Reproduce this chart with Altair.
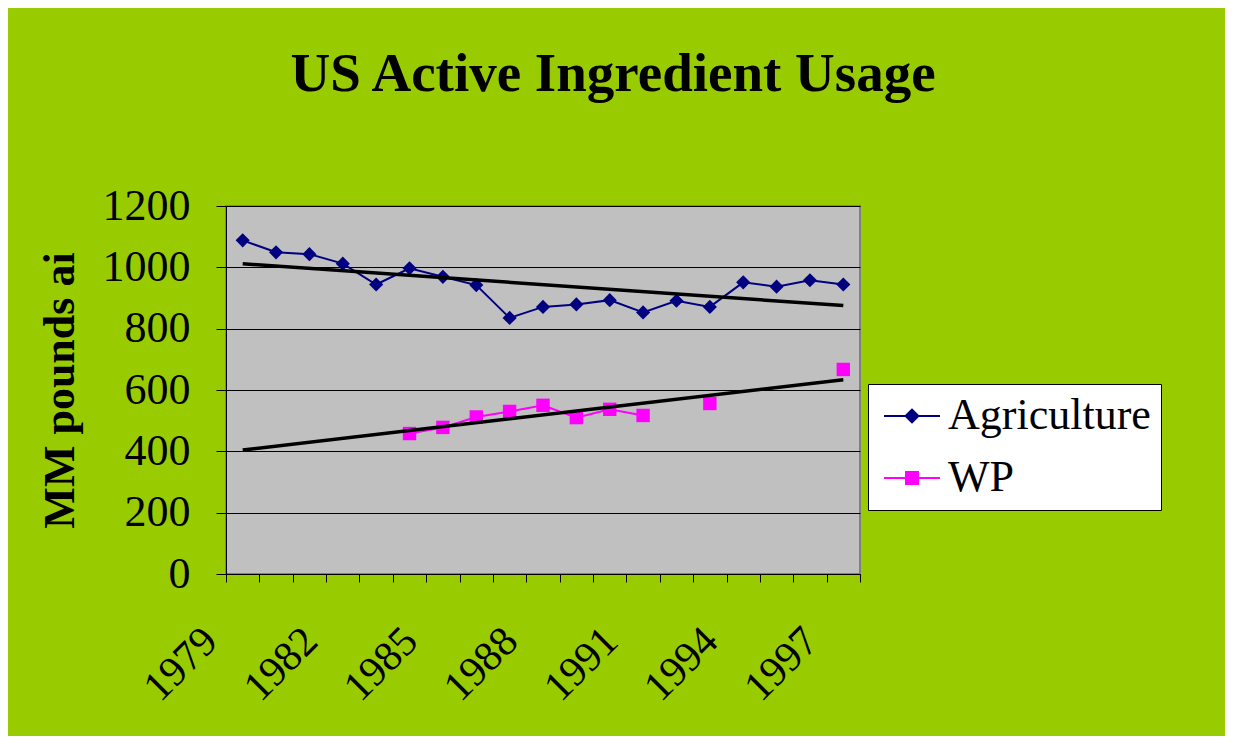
import altair as alt
import pandas as pd

# ---- data ----
years = [1979, 1980, 1981, 1982, 1983, 1984, 1985, 1986, 1987, 1988,
         1989, 1990, 1991, 1992, 1993, 1994, 1995, 1996, 1997]
agriculture = [1088, 1049, 1043, 1012, 944, 997, 969, 942, 835, 871,
               879, 893, 853, 891, 871, 951, 937, 958, 944]
wp_years = [1984, 1985, 1986, 1987, 1988, 1989, 1990, 1991, 1993, 1997]
wp_values = [458, 478, 512, 530, 550, 510, 537, 517, 556, 667]

series_names = ["Agriculture", "WP"]
series_colors = ["#000080", "#FF00FF"]
point_shapes = ["diamond", "square"]
legend_paths = [
    "M-1.4,0L1.4,0M-0.32,0L0,-0.32L0.32,0L0,0.32Z",
    "M-1.4,0L1.4,0M-0.3,-0.3L0.3,-0.3L0.3,0.3L-0.3,0.3Z",
]
x_tick_labels = ["1979", "1982", "1985", "1988", "1991", "1994", "1997"]
y_ticks = [0, 200, 400, 600, 800, 1000, 1200]

FONT = "Liberation Serif"
BG = "#99CC00"

# ---- table ----
rows = []
for y, v in zip(years, agriculture):
    rows.append({"series": "Agriculture", "year": y, "value": v, "seg": 0})
seg = 0
prev = None
for y, v in zip(wp_years, wp_values):
    if prev is not None and y - prev > 1:
        seg += 1
    rows.append({"series": "WP", "year": y, "value": v, "seg": seg})
    prev = y
df = pd.DataFrame(rows)

boundaries = [y - 0.5 for y in years] + [years[-1] + 0.5]
label_list = "[" + ",".join("'" + t + "'" for t in x_tick_labels) + "]"

x_enc = alt.X(
    "year:Q",
    scale=alt.Scale(domain=[boundaries[0], boundaries[-1]], nice=False, zero=False),
    axis=alt.Axis(
        values=boundaries,
        labelExpr=f"indexof({label_list}, toString(datum.value + 0.5)) >= 0 ? toString(datum.value + 0.5) : ''",
        labelAngle=315,
        labelAlign="right",
        labelBaseline="middle",
        labelFont=FONT,
        labelFontSize=42,
        labelColor="black",
        labelPadding=52,
        labelOffset=-16,
        labelOverlap=False,
        labelFlush=False,
        tickSize=8,
        tickColor="black",
        domainColor="black",
        grid=False,
        title=None,
    ),
)
y_enc = alt.Y(
    "value:Q",
    scale=alt.Scale(domain=[0, 1200], nice=False),
    axis=alt.Axis(
        values=y_ticks,
        format="d",
        grid=True,
        gridColor="black",
        gridWidth=1,
        domainColor="black",
        tickColor="black",
        tickSize=10,
        labelFont=FONT,
        labelFontSize=44,
        labelColor="black",
        labelPadding=26,
        title="MM pounds ai",
        titleFont=FONT,
        titleFontSize=44,
        titleFontWeight="bold",
        titleColor="black",
        titlePadding=20,
    ),
)

base = alt.Chart(df).encode(x=x_enc, y=y_enc)

color_scale = alt.Scale(domain=series_names, range=series_colors)

leg = dict(
    orient="none",
    legendX=642,
    legendY=178,
    title=None,
    fillColor="white",
    strokeColor="black",
    padding=10,
    symbolSize=1600,
    symbolStrokeWidth=2,
    symbolOffset=12,
    symbolOpacity=1,
    labelOffset=14,
    labelFont=FONT,
    labelFontSize=44,
    labelColor="black",
    labelLimit=400,
    rowPadding=18,
)

# invisible layer that only provides the legend (line + marker symbols)
legend_layer = base.mark_point(filled=True, opacity=0, size=1600).encode(
    fill=alt.Fill("series:N", scale=color_scale, legend=alt.Legend(**leg)),
    stroke=alt.Stroke("series:N", scale=color_scale, legend=alt.Legend(**leg)),
    shape=alt.Shape("series:N", scale=alt.Scale(domain=series_names, range=legend_paths),
                    legend=alt.Legend(**leg)),
)

line_layers = []
point_layers = []
for name, col, shp, sz in zip(series_names, series_colors, point_shapes, [200, 180]):
    sub = base.transform_filter(alt.datum.series == name)
    line_layers.append(sub.mark_line(strokeWidth=2, color=col).encode(detail="seg:N"))
    point_layers.append(sub.mark_point(shape=shp, filled=True, size=sz, color=col, opacity=1))

trend = base.transform_regression(
    "year", "value", groupby=["series"], extent=[years[0], years[-1]]
).mark_line(color="black", strokeWidth=3.5).encode(detail="series:N")

chart = alt.layer(legend_layer, *line_layers, *point_layers, trend).properties(
    width=634,
    height=368,
    title=alt.TitleParams(
        text="US Active Ingredient Usage",
        font=FONT,
        fontSize=55,
        fontWeight="bold",
        color="black",
        anchor="middle",
        dx=70,
        offset=38,
        baseline="alphabetic",
    ),
    background=BG,
    padding={"left": 218, "top": 198, "right": 365, "bottom": 162},
    autosize=alt.AutoSizeParams(type="none"),
).configure(
    font=FONT
).configure_view(
    fill="#C0C0C0", stroke="#808080", strokeWidth=2
).configure_legend(
    labelFont=FONT, labelFontSize=44, labelColor="black"
)

chart.save("out.html", embed_options={"renderer": "svg", "actions": False})
